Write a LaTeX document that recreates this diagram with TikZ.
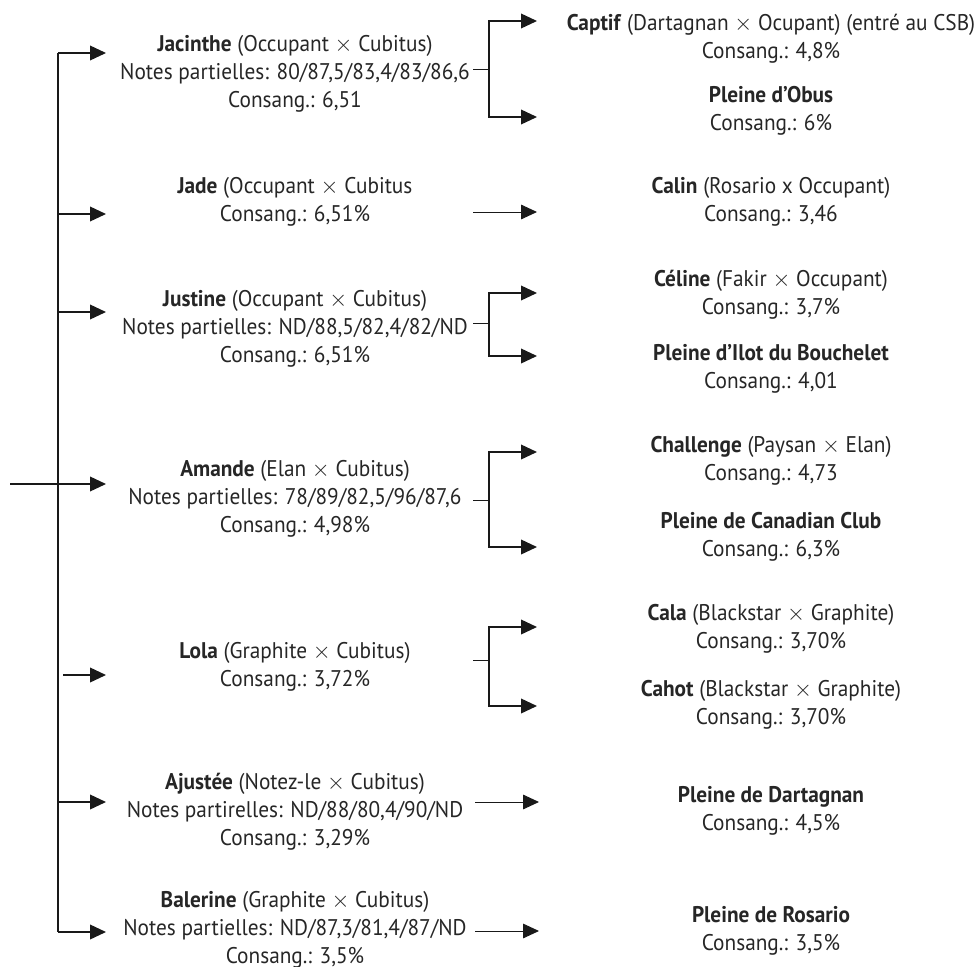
\documentclass[tikz,border=0pt]{standalone}
\usepackage{fontspec}
\setmainfont{PT Sans}[FakeStretch=0.94]
\usetikzlibrary{
  arrows.meta,
  chains,
  scopes
}
\newcommand{\cross}{\(\times\)}

\begin{document}
\begin{tikzpicture}[
      x=0.75pt,y=-0.75pt,
      horse/.style={
         align=center,
         inner sep=0pt,
         text=black!85,
         font=\fontsize{17}{20.9}\selectfont,
      },
      point/.style={coordinate},
      >={Triangle[length=12pt,width=11pt]},
      line width=1.2pt,draw=black!90,
      tip/.style={->},
      stub/.style={line width=0.7pt},
      hv path/.style={to path={-| (\tikztotarget)}},
      vh path/.style={to path={|- (\tikztotarget)}},
    ]
    \useasboundingbox (0,0) rectangle (976,967);
    % first generation
    \node (n11) [point] at (58,53) {};
    \node (n12) [point] at (106,53) {};
    \node (n13) [horse] at (295,74) {\textbf{Jacinthe} (Occupant \cross{} Cubitus)\\Notes partielles: 80/87,5/83,4/83/86,6\\Consang.: 6,51};
    \node (n21) [point] at (58,214) {};
    \node (n22) [point] at (106,214) {};
    \node (n23) [horse] at (295,202) {\textbf{Jade} (Occupant \cross{} Cubitus\\Consang.: 6,51\%};
    \node (n31) [point] at (58,312) {};
    \node (n32) [point] at (106,312) {};
    \node (n33) [horse] at (295,329) {\textbf{Justine} (Occupant \cross{} Cubitus)\\Notes partielles: ND/88,5/82,4/82/ND\\Consang.: 6,51\%};
    \node (n40) [point] at (10,484) {};
    \node (n42) [point] at (106,484) {};
    \node (n43) [horse] at (295,499) {\textbf{Amande} (Elan \cross{} Cubitus)\\Notes partielles: 78/89/82,5/96/87,6\\Consang.: 4,98\%};
    \node (n51) [point] at (63,675) {};
    \node (n52) [point] at (106,675) {};
    \node (n53) [horse] at (295,667) {\textbf{Lola} (Graphite \cross{} Cubitus)\\Consang.: 3,72\%};
    \node (n61) [point] at (58,802) {};
    \node (n62) [point] at (106,802) {};
    \node (n63) [horse] at (295,812) {\textbf{Ajustée} (Notez-le \cross{} Cubitus)\\Notes partirelles: ND/88/80,4/90/ND\\Consang.: 3,29\%};
    \node (n71) [point] at (58,932) {};
    \node (n72) [point] at (106,932) {};
    \node (n73) [horse] at (295,930) {\textbf{Balerine} (Graphite \cross{} Cubitus)\\Notes partielles: ND/87,3/81,4/87/ND\\Consang.: 3,5\%};
    % second generation
    \node (n14) [point] at (473,69) {};
    \node (n15) [point] at (489,69) {};
    \node (n16) [point] at (537,21) {};
    \node (n17) [horse] at (771,39) {\textbf{Captif} (Dartagnan \cross{} Ocupant) (entré au CSB)\\Consang.: 4,8\%};
    \node (n18) [point] at (537,117) {};
    \node (n19) [horse] at (771,111) {\textbf{Pleine d’Obus}\\Consang.: 6\%};
    \node (n24) [point] at (473,212) {};
    \node (n26) [point] at (537,212) {};
    \node (n27) [horse] at (771,202) {\textbf{Calin} (Rosario x Occupant)\\Consang.: 3,46};
    \node (n34) [point] at (473,323) {};
    \node (n35) [point] at (489,323) {};
    \node (n36) [point] at (537,293) {};
    \node (n37) [horse] at (771,295) {\textbf{Céline} (Fakir \cross{} Occupant)\\Consang.: 3,7\%};
    \node (n38) [point] at (537,356) {};
    \node (n39) [horse] at (771,369) {\textbf{Pleine d’Ilot du Bouchelet}\\Consang.: 4,01};
    \node (n44) [point] at (473,500) {};
    \node (n45) [point] at (489,500) {};
    \node (n46) [point] at (537,452) {};
    \node (n47) [horse] at (771,461) {\textbf{Challenge} (Paysan \cross{} Elan)\\Consang.: 4,73};
    \node (n48) [point] at (537,547) {};
    \node (n49) [horse] at (771,537) {\textbf{Pleine de Canadian Club}\\Consang.: 6,3\%};
    \node (n54) [point] at (473,660) {};
    \node (n55) [point] at (489,660) {};
    \node (n56) [point] at (537,627) {};
    \node (n57) [horse] at (771,629) {\textbf{Cala} (Blackstar \cross{} Graphite)\\Consang.: 3,70\%};
    \node (n58) [point] at (537,706) {};
    \node (n59) [horse] at (771,705) {\textbf{Cahot} (Blackstar \cross{} Graphite)\\Consang.: 3,70\%};
    \node (n64) [point] at (475,802) {};
    \node (n66) [point] at (539,802) {};
    \node (n67) [horse] at (771,811) {\textbf{Pleine de Dartagnan}\\Consang.: 4,5\%};
    \node (n74) [point] at (475,931) {};
    \node (n76) [point] at (539,931) {};
    \node (n77) [horse] at (771,931) {\textbf{Pleine de Rosario}\\Consang.: 3,5\%};
  { [start chain]
       \chainin (n11);
       \chainin (n71)    [join];
  }
  { [start chain]
       \chainin (n11);
       \chainin (n12)    [join=by tip];
  }
  { [start chain]
       \chainin (n21);
       \chainin (n22)    [join=by tip];
  }
  { [start chain]
       \chainin (n31);
       \chainin (n32)    [join=by tip];
  }
  { [start chain]
       \chainin (n40);
       \chainin (n42)    [join=by tip];
  }
  { [start chain]
       \chainin (n51);
       \chainin (n52)    [join=by tip];
  }
  { [start chain]
       \chainin (n61);
       \chainin (n62)    [join=by tip];
  }
  { [start chain]
       \chainin (n71);
       \chainin (n72)    [join=by tip];
  }
  { [start chain]
       \chainin (n14);
       \chainin (n15)    [join=by stub];
       \chainin (n16)    [join=by {vh path,tip}];
  }
  { [start chain]
       \chainin (n15);
       \chainin (n18)    [join=by {vh path,tip}];
  }
  { [start chain]
       \chainin (n24);
       \chainin (n26)    [join=by {stub,tip}];
  }
  { [start chain]
       \chainin (n34);
       \chainin (n35)    [join=by stub];
       \chainin (n36)    [join=by {vh path,tip}];
  }
  { [start chain]
       \chainin (n35);
       \chainin (n38)    [join=by {vh path,tip}];
  }
  { [start chain]
       \chainin (n44);
       \chainin (n45)    [join=by stub];
       \chainin (n46)    [join=by {vh path,tip}];
  }
  { [start chain]
       \chainin (n45);
       \chainin (n48)    [join=by {vh path,tip}];
  }
  { [start chain]
       \chainin (n54);
       \chainin (n55)    [join=by stub];
       \chainin (n56)    [join=by {vh path,tip}];
  }
  { [start chain]
       \chainin (n55);
       \chainin (n58)    [join=by {vh path,tip}];
  }
  { [start chain]
       \chainin (n64);
       \chainin (n66)    [join=by {stub,tip}];
  }
  { [start chain]
       \chainin (n74);
       \chainin (n76)    [join=by {stub,tip}];
  }
\end{tikzpicture}
\end{document}
